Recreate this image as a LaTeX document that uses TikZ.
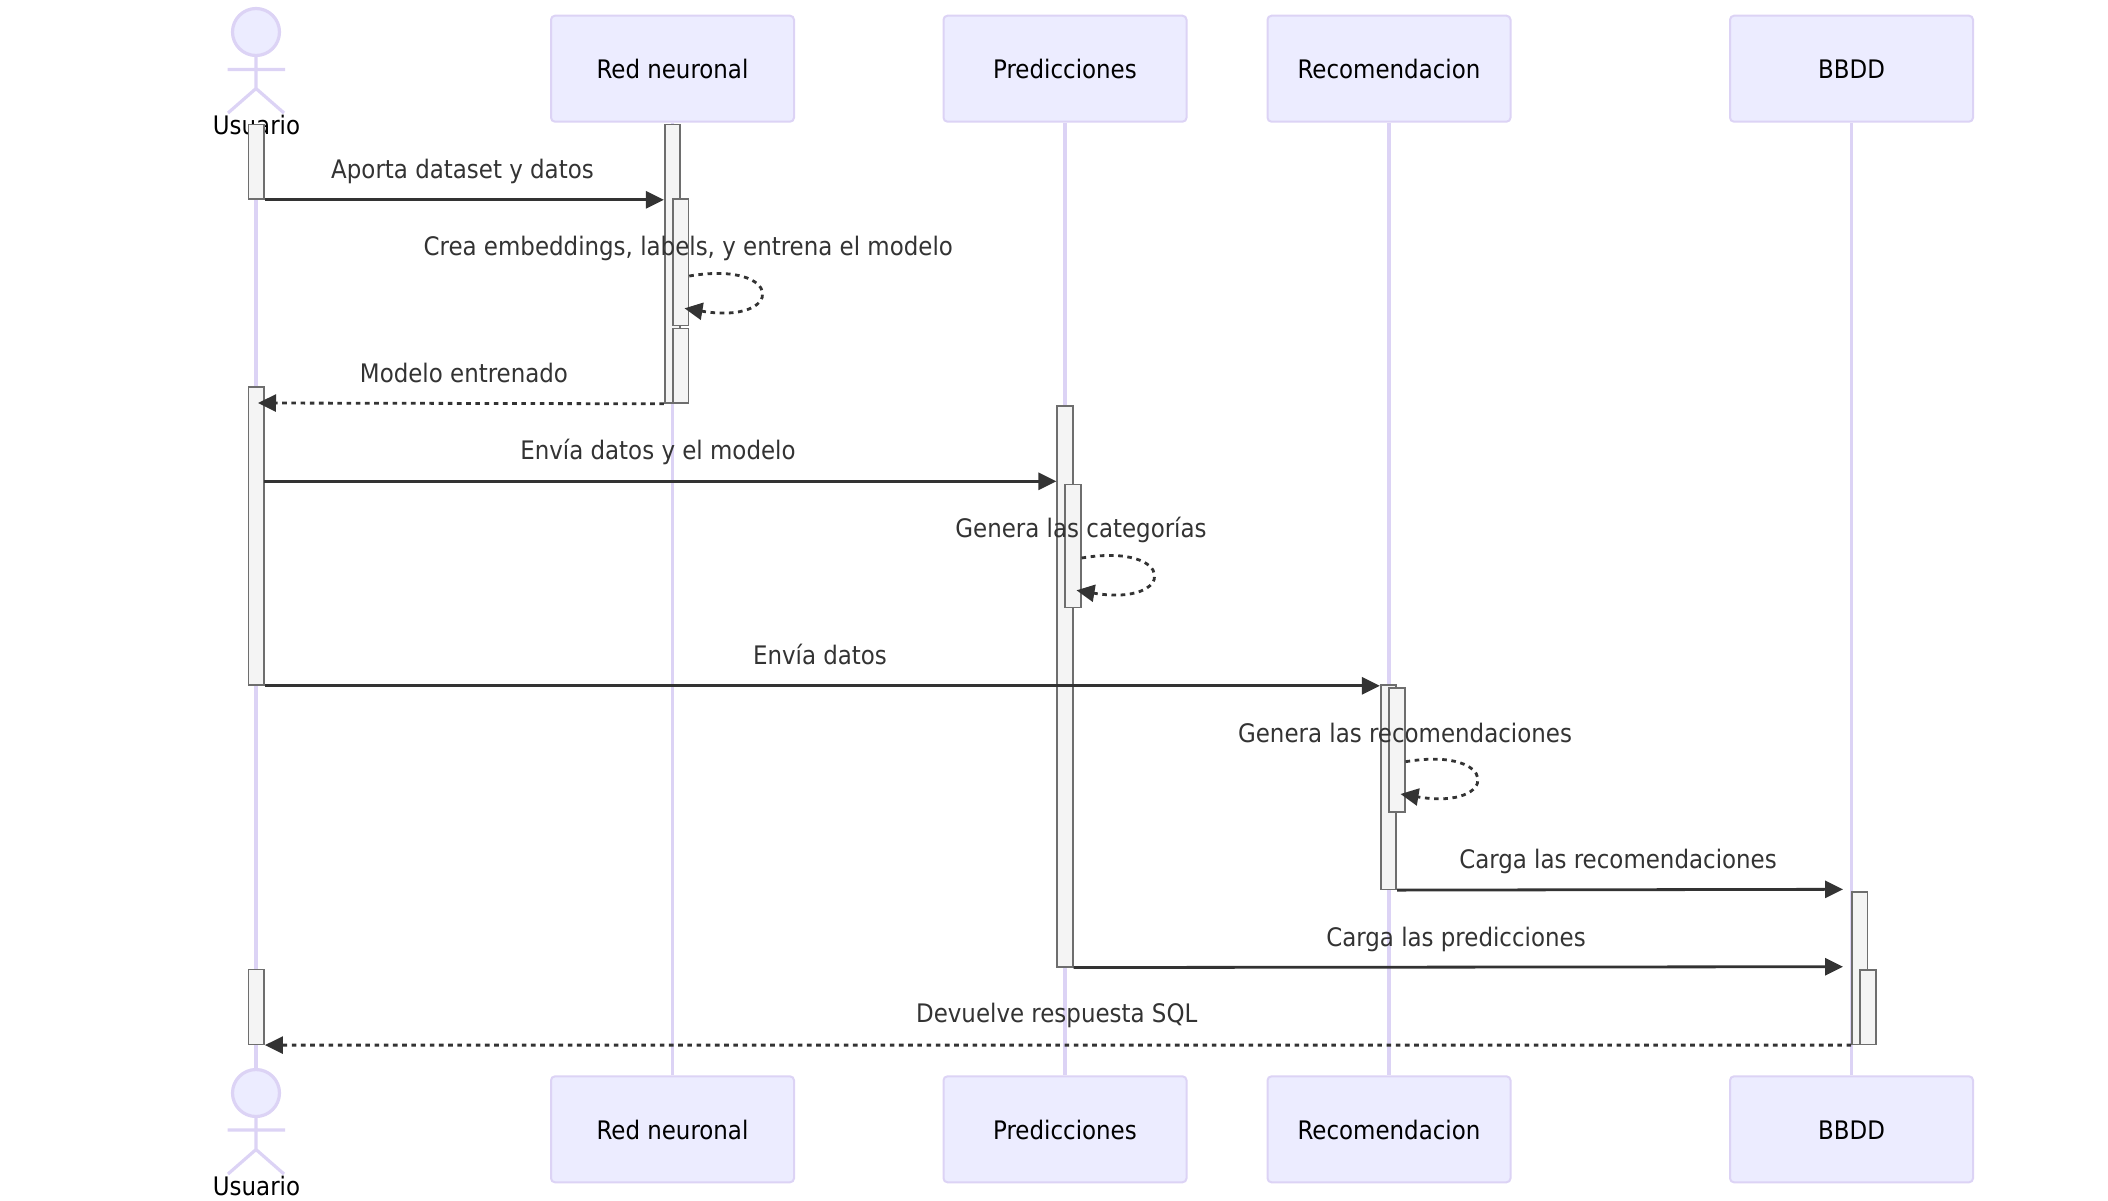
\documentclass[tikz,border=0pt]{standalone}
\usepackage{fontspec}
\setmainfont{DejaVu Sans Condensed}
\usetikzlibrary{arrows.meta}
\definecolor{lifec}{HTML}{DCD3F5}
\definecolor{actorfill}{HTML}{ECECFF}
\definecolor{actbarfill}{HTML}{F4F4F4}
\definecolor{actbarline}{HTML}{6E6E6E}
\definecolor{msgc}{HTML}{333333}
\tikzset{
  actorbox/.style={draw=lifec,fill=actorfill,line width=2pt,rounded corners=4pt,minimum width=243pt,minimum height=106pt,inner sep=0pt,text=black,font=\fontsize{25.5}{30}\selectfont,text height=19.5pt,text depth=0pt},
  lifeline/.style={draw=lifec,line width=3.2pt},
  stick/.style={draw=lifec,line width=3.2pt},
  head/.style={draw=lifec,fill=actorfill,line width=3.2pt,circle,minimum size=47pt,inner sep=0pt},
  actlabel/.style={text=black,inner sep=0pt,font=\fontsize{25.5}{30}\selectfont},
  actbar/.style={draw=actbarline,fill=actbarfill,line width=1.6pt,minimum width=15.5pt,inner sep=0pt},
  msgline/.style={draw=msgc,line width=2.8pt,-{Triangle[length=18pt,width=17pt]}},
  msgdash/.style={msgline,dash pattern=on 4.6pt off 4.6pt},
  msglabel/.style={text=msgc,inner sep=0pt,font=\fontsize{25.5}{30}\selectfont},
}
\newcommand{\activation}[4]{%
  \pgfmathsetmacro{\barh}{#4-#3}%
  \pgfmathsetmacro{\barc}{(#3+#4)/2}%
  \node[actbar,minimum height=\barh pt] (#1) at (#2,\barc) {};}
\begin{document}
\begin{tikzpicture}[x=1pt,y=-1pt]
\useasboundingbox (0,0) rectangle (2108,1200);
% actor boxes
\coordinate (ut) at (256,124);
\coordinate (ub) at (256,1068);
\draw[lifeline] (ut) -- (ub);
\node[actorbox] (rt) at (672.5,68.7) {Red neuronal};
\node[actorbox] (pt) at (1065,68.7) {Predicciones};
\node[actorbox] (ct) at (1389,68.7) {Recomendacion};
\node[actorbox] (bt) at (1851.5,68.7) {BBDD};
\node[actorbox] (rb) at (672.5,1129.3) {Red neuronal};
\node[actorbox] (pb) at (1065,1129.3) {Predicciones};
\node[actorbox] (cb) at (1389,1129.3) {Recomendacion};
\node[actorbox] (bb) at (1851.5,1129.3) {BBDD};
\draw[lifeline] (rt) -- (rb);
\draw[lifeline] (pt) -- (pb);
\draw[lifeline] (ct) -- (cb);
\draw[lifeline] (bt) -- (bb);
% stick figures
\node[head] (ht) at (256,32) {};
\coordinate (hip1) at (256,88.5);
\coordinate (arm1l) at (227.5,69.5);
\coordinate (arm1r) at (285,69.5);
\coordinate (leg1l) at (228,113);
\coordinate (leg1r) at (284,113);
\draw[stick] (ht) -- (hip1) (arm1l) -- (arm1r) (leg1l) -- (hip1) -- (leg1r);
\node[head] (hb) at (256,1093) {};
\coordinate (hip2) at (256,1149.5);
\coordinate (arm2l) at (227.5,1130);
\coordinate (arm2r) at (285,1130);
\coordinate (leg2l) at (228,1174);
\coordinate (leg2r) at (284,1174);
\draw[stick] (hb) -- (hip2) (arm2l) -- (arm2r) (leg2l) -- (hip2) -- (leg2r);
\node[actlabel] (ult) at (256.5,125) {Usuario};
\node[actlabel] (ulb) at (256.5,1186) {Usuario};
% activations
\activation{ua}{256.3}{124.3}{199}
\activation{ub2}{256.3}{387}{685}
\activation{uc}{256.3}{969.5}{1044.3}
\activation{ra}{672.5}{124.3}{403}
\activation{rb2}{680.7}{199}{325.3}
\activation{rc}{680.7}{328.3}{403}
\activation{pa}{1065}{406}{966.7}
\activation{pb2}{1073}{484.3}{607.6}
\activation{ca}{1388.5}{685}{889.3}
\activation{cb2}{1397}{688}{811.7}
\activation{ba}{1859.7}{891.8}{1044.3}
\activation{bb2}{1868}{969.7}{1044.3}
% messages
\coordinate (bat) at (1843,889.3);
\coordinate (bap) at (1843,966.7);
\draw[msgline] (ua.south east) -- (ra.west |- ua.south);
\draw[msgdash] (rb2.east |- 0,276) .. controls (785,260) and (785,325) .. (684.5,308.3);
\draw[msgdash] (ra.south west) -- (258,403);
\draw[msgline] (264,481.3) -- (pa.west |- 0,481.3);
\draw[msgdash] (pb2.east |- 0,558) .. controls (1177,542) and (1177,607) .. (1076.5,590.3);
\draw[msgline] (ub2.south east) -- (ca.west |- ub2.south);
\draw[msgdash] (cb2.east |- 0,761.7) .. controls (1500,745.7) and (1500,810.7) .. (1400.5,794);
\draw[msgline] (ca.south east) -- (bat);
\draw[msgline] (pa.south east) -- (bap);
\draw[msgdash] (ba.south west) -- (uc.south east);
% labels
\node[msglabel] (l1) at (462.5,171) {Aporta dataset y datos};
\node[msglabel] (l2) at (688.3,248.5) {Crea embeddings, labels, y entrena el modelo};
\node[msglabel] (l3) at (464,373) {Modelo entrenado};
\node[msglabel] (l4) at (658,452) {Envía datos y el modelo};
\node[msglabel] (l5) at (1081,530) {Genera las categorías};
\node[msglabel] (l6) at (820,654.7) {Envía datos};
\node[msglabel] (l7) at (1405,733.3) {Genera las recomendaciones};
\node[msglabel] (l8) at (1618,861.5) {Carga las recomendaciones};
\node[msglabel] (l9) at (1456,939.8) {Carga las predicciones};
\node[msglabel] (l10) at (1056.7,1015.5) {Devuelve respuesta SQL};
\end{tikzpicture}
\end{document}
